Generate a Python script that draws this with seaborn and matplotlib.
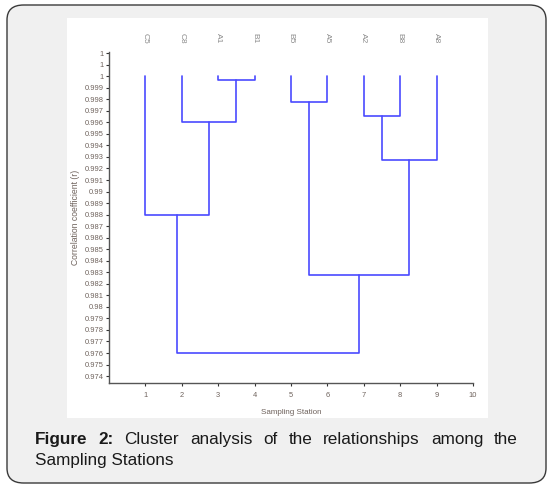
import matplotlib
matplotlib.use("Agg")
import matplotlib.pyplot as plt
from matplotlib.patches import FancyBboxPatch, Rectangle
from matplotlib.transforms import blended_transform_factory
import numpy as np
import pandas as pd
import seaborn as sns

# leaves of the dendrogram, left to right
stations = ["C5", "C8", "A1", "B1", "B5", "A5", "A2", "B8", "A8"]
# merges: (left cluster, right cluster), leaves are 0..8, new clusters 9, 10, ...
merge_left = [2, 1, 0, 4, 6, 13, 12, 11]
merge_right = [3, 9, 10, 5, 7, 8, 14, 15]
merge_r = [0.9997, 0.996, 0.988, 0.9978, 0.99655, 0.9927, 0.9828, 0.976]
leaf_r = 1.0

ytick_vals = [round(0.974 + 0.001 * i, 3) for i in range(29)]
ytick_labels = ["0.974", "0.975", "0.976", "0.977", "0.978", "0.979", "0.98",
                "0.981", "0.982", "0.983", "0.984", "0.985", "0.986", "0.987",
                "0.988", "0.989", "0.99", "0.991", "0.992", "0.993", "0.994",
                "0.995", "0.996", "0.997", "0.998", "0.999", "1", "1", "1"]
xtick_vals = list(range(1, 11))

# build U-shaped segments from the merge table
node_x = {i: float(i + 1) for i in range(len(stations))}
node_y = {i: leaf_r for i in range(len(stations))}
rows = []
for k, (a, b, h) in enumerate(zip(merge_left, merge_right, merge_r)):
    new = len(stations) + k
    xs = [node_x[a], node_x[a], node_x[b], node_x[b]]
    ys = [node_y[a], h, h, node_y[b]]
    for j, (x, y) in enumerate(zip(xs, ys)):
        rows.append({"link": k, "order": j, "x": x, "r": y})
    node_x[new] = (node_x[a] + node_x[b]) / 2
    node_y[new] = h
links = pd.DataFrame(rows)

sns.set_theme(style="ticks")
plt.rcParams["font.family"] = ["Liberation Sans", "DejaVu Sans"]

W, H = 554, 495
fig = plt.figure(figsize=(W / 100, H / 100), dpi=100)
fig.patch.set_facecolor("white")

# outer rounded caption box and white chart panel
box = FancyBboxPatch((7 / W, 12 / H), 539 / W, 478 / H,
                     boxstyle="round,pad=0,rounding_size=0.03",
                     transform=fig.transFigure, facecolor="#f0f0f0",
                     edgecolor="#3a3a3a", linewidth=1.0, zorder=-2)
fig.patches.append(box)
panel = Rectangle((67 / W, 1 - 418 / H), 421 / W, 400 / H,
                  transform=fig.transFigure, facecolor="white",
                  edgecolor="none", zorder=-1)
fig.patches.append(panel)

ax = fig.add_axes([109 / W, 1 - 383 / H, 364 / W, 331 / H])
ax.set_facecolor("none")
sns.lineplot(data=links, x="x", y="r", units="link", estimator=None,
             sort=False, color="#4a4aff", linewidth=1.2, ax=ax, legend=False)

ax.set_xlim(0, 10)
ax.set_ylim(0.9734, 1.0021)
ax.set_xticks(xtick_vals)
ax.set_xticklabels([str(v) for v in xtick_vals])
ax.set_yticks(ytick_vals)
ax.set_yticklabels(ytick_labels)
tick_col = "#6e625c"
ax.tick_params(axis="both", labelsize=5.4, colors="#333333", labelcolor=tick_col,
               length=2.5, width=0.8, pad=1.5)
ax.tick_params(axis="x", pad=4)
for s in ["top", "right"]:
    ax.spines[s].set_visible(False)
for s in ["left", "bottom"]:
    ax.spines[s].set_color("#555555")
    ax.spines[s].set_linewidth(1.0)
ax.set_xlabel("Sampling Station", fontsize=5.8, color=tick_col, labelpad=7)
ax.set_ylabel("Correlation coefficient (r)", fontsize=6.2, color=tick_col, labelpad=3)

# station names above the leaves
tr = blended_transform_factory(ax.transData, fig.transFigure)
for i, name in enumerate(stations):
    ax.text(i + 1, 1 - 38 / H, name, transform=tr, rotation=270,
            ha="center", va="center", fontsize=6, color="#8a8a8a", clip_on=False)

# caption, first line justified
fig.canvas.draw()
renderer = fig.canvas.get_renderer()
words = [("Figure", "bold"), ("2:", "bold"), ("Cluster", "normal"), ("analysis", "normal"),
         ("of", "normal"), ("the", "normal"), ("relationships", "normal"),
         ("among", "normal"), ("the", "normal")]
x0, x1 = 35, 518
fs = 12.3
texts = []
for w, wt in words:
    t = fig.text(0, 1 - 444 / H, w, fontsize=fs, fontweight=wt, color="#1a1a1a",
                 ha="left", va="baseline")
    texts.append(t)
fig.canvas.draw()
widths = [t.get_window_extent(renderer).width for t in texts]
gap = (x1 - x0 - sum(widths)) / (len(words) - 1)
cx = x0
for t, wd in zip(texts, widths):
    t.set_x(cx / W)
    cx += wd + gap
fig.text(x0 / W, 1 - 465 / H, "Sampling Stations", fontsize=fs, color="#1a1a1a",
         ha="left", va="baseline")

fig.savefig("out.png", dpi=100)
